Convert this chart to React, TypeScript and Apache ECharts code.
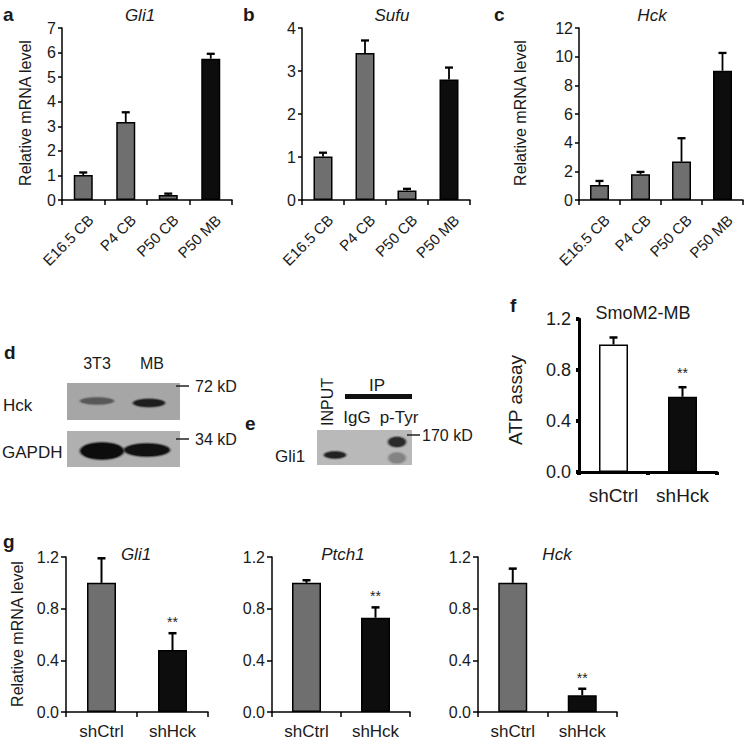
import React, { useEffect, useRef } from "react";
import * as echarts from "echarts";

const devCategories = ["E16.5 CB", "P4 CB", "P50 CB", "P50 MB"];
const gli1DevMean = [1.02, 3.17, 0.2, 5.75];
const gli1DevErr = [0.1, 0.4, 0.06, 0.2];
const sufuDevMean = [1.01, 3.42, 0.22, 2.8];
const sufuDevErr = [0.09, 0.29, 0.04, 0.28];
const hckDevMean = [1.05, 1.8, 2.68, 9.02];
const hckDevErr = [0.28, 0.16, 1.63, 1.24];

const shCategories = ["shCtrl", "shHck"];
const shSignificant = [false, true];
const atpMean = [1.0, 0.59];
const atpErr = [0.055, 0.075];
const gli1ShMean = [1.0, 0.48];
const gli1ShErr = [0.19, 0.13];
const ptch1ShMean = [1.0, 0.73];
const ptch1ShErr = [0.02, 0.08];
const hckShMean = [1.0, 0.13];
const hckShErr = [0.11, 0.05];

const FONT = '"Liberation Sans", Arial, Helvetica, sans-serif';
const GRAY = "#6f6f6f";
const BLACK = "#0d0d0d";
const TXT = "#1a1a1a";

function txt(text: string, x: number, y: number, size: number, opts: any = {}) {
  return {
    type: "text",
    x,
    y,
    rotation: opts.rotation || 0,
    z: 10,
    style: {
      text,
      x: 0,
      y: 0,
      fill: opts.fill || TXT,
      font: `${opts.style || "normal"} ${opts.weight || "normal"} ${size}px ${FONT}`,
      align: opts.align || "center",
      verticalAlign: opts.valign || "middle",
      textAlign: opts.align || "center",
      textVerticalAlign: opts.valign || "middle",
    },
  };
}

// a soft band: several concentric ellipses with falling opacity
function band(cx: number, cy: number, rx: number, ry: number, color: string, strength: number) {
  const layers: any[] = [];
  const steps = [
    [3, 0.12],
    [2, 0.25],
    [1, 0.5],
    [0, 1.0],
  ];
  for (const [d, o] of steps) {
    layers.push({
      type: "ellipse",
      shape: { cx, cy, rx: rx + d, ry: ry + d * 0.7 },
      style: { fill: color, opacity: o * strength },
    });
  }
  return layers;
}

function errRender(capHalf: number, lw: number, starOffset: number) {
  return (params: any, api: any) => {
    const i = api.value(0);
    const v = api.value(1);
    const e = api.value(2);
    const s = api.value(3);
    const p0 = api.coord([i, v]);
    const p1 = api.coord([i, v + e]);
    const children: any[] = [
      { type: "line", shape: { x1: p0[0], y1: p0[1], x2: p1[0], y2: p1[1] }, style: { stroke: "#000", lineWidth: lw } },
      { type: "line", shape: { x1: p1[0] - capHalf, y1: p1[1], x2: p1[0] + capHalf, y2: p1[1] }, style: { stroke: "#000", lineWidth: lw + 0.5 } },
    ];
    if (s) {
      children.push({
        type: "text",
        style: {
          text: "**",
          x: p1[0],
          y: p1[1] - starOffset,
          fill: "#222",
          font: `normal normal 14px ${FONT}`,
          align: "center",
          verticalAlign: "middle",
          textAlign: "center",
          textVerticalAlign: "middle",
        },
      });
    }
    return { type: "group", children };
  };
}

export default function App() {
  const ref = useRef<HTMLDivElement>(null);
  useEffect(() => {
    if (!ref.current) return;
    const chart = echarts.init(ref.current, undefined, { renderer: "svg" });

    const grids = [
      { left: 62, top: 28, width: 170, height: 172 },
      { left: 302, top: 28, width: 168, height: 172 },
      { left: 579, top: 28, width: 164, height: 172 },
      { left: 579, top: 319, width: 138, height: 153 },
      { left: 66, top: 557, width: 142, height: 155 },
      { left: 272, top: 557, width: 138, height: 155 },
      { left: 478, top: 557, width: 139, height: 155 },
    ];

    const xAxes: any[] = [];
    const yAxes: any[] = [];
    const series: any[] = [];

    const addDev = (gi: number, mean: number[], err: number[], max: number, interval: number) => {
      xAxes.push({
        type: "category",
        gridIndex: gi,
        data: devCategories,
        axisLine: { lineStyle: { color: "#000", width: 1.5 } },
        axisTick: { show: true, length: 5, lineStyle: { color: "#000", width: 1.5 } },
        axisLabel: {
          rotate: 45,
          fontSize: 15,
          fontFamily: FONT,
          color: TXT,
          margin: 10,
          verticalAlign: "top",
          padding: [3, 0, 0, 0],
        },
      });
      yAxes.push({
        type: "value",
        gridIndex: gi,
        min: 0,
        max,
        interval,
        splitLine: { show: false },
        axisLine: { show: true, lineStyle: { color: "#000", width: 1.5 } },
        axisTick: { show: true, length: 4, lineStyle: { color: "#000", width: 1.5 } },
        axisLabel: { fontSize: 16, fontFamily: FONT, color: TXT, margin: 6 },
      });
      series.push({
        type: "bar",
        xAxisIndex: gi,
        yAxisIndex: gi,
        barWidth: 19,
        data: mean.map((v, i) => ({ value: v, itemStyle: { color: i === 3 ? BLACK : GRAY } })),
        itemStyle: { borderColor: "#000", borderWidth: 1.5 },
        z: 3,
      });
      series.push({
        type: "custom",
        xAxisIndex: gi,
        yAxisIndex: gi,
        renderItem: errRender(4, 1.8, 10),
        data: mean.map((v, i) => [i, v, err[i], 0]),
        z: 2,
      });
    };

    const addSh = (gi: number, mean: number[], err: number[], colors: string[], opts: any) => {
      xAxes.push({
        type: "category",
        gridIndex: gi,
        data: shCategories,
        axisLine: { lineStyle: { color: "#000", width: opts.lw } },
        axisTick: { show: true, length: opts.tickLen, lineStyle: { color: "#000", width: opts.tickW } },
        axisLabel: { fontSize: opts.catFont, fontFamily: FONT, color: TXT, margin: opts.catMargin },
      });
      yAxes.push({
        type: "value",
        gridIndex: gi,
        min: 0,
        max: 1.2,
        interval: 0.4,
        splitLine: { show: false },
        axisLine: { show: true, lineStyle: { color: "#000", width: opts.lw } },
        axisTick: { show: true, length: opts.tickLen, lineStyle: { color: "#000", width: opts.tickW } },
        axisLabel: {
          fontSize: opts.tickFont,
          fontFamily: FONT,
          color: TXT,
          margin: opts.tickMargin,
          formatter: (v: number) => v.toFixed(1),
        },
      });
      series.push({
        type: "bar",
        xAxisIndex: gi,
        yAxisIndex: gi,
        barWidth: 29,
        data: mean.map((v, i) => ({ value: v, itemStyle: { color: colors[i] } })),
        itemStyle: { borderColor: "#000", borderWidth: 1.5 },
        z: 3,
      });
      series.push({
        type: "custom",
        xAxisIndex: gi,
        yAxisIndex: gi,
        renderItem: errRender(4, 2, opts.starOffset),
        data: mean.map((v, i) => [i, v, err[i], shSignificant[i] ? 1 : 0]),
        z: 2,
      });
    };

    addDev(0, gli1DevMean, gli1DevErr, 7, 1);
    addDev(1, sufuDevMean, sufuDevErr, 4, 1);
    addDev(2, hckDevMean, hckDevErr, 12, 2);
    addSh(3, atpMean, atpErr, ["#ffffff", BLACK], {
      lw: 3, tickLen: 3, tickW: 4, catFont: 19, catMargin: 14, tickFont: 18, tickMargin: 8, starOffset: 14,
    });
    addSh(4, gli1ShMean, gli1ShErr, [GRAY, BLACK], {
      lw: 1.5, tickLen: 5, tickW: 1.5, catFont: 17, catMargin: 11, tickFont: 16, tickMargin: 7, starOffset: 11,
    });
    addSh(5, ptch1ShMean, ptch1ShErr, [GRAY, BLACK], {
      lw: 1.5, tickLen: 5, tickW: 1.5, catFont: 17, catMargin: 11, tickFont: 16, tickMargin: 7, starOffset: 11,
    });
    addSh(6, hckShMean, hckShErr, [GRAY, BLACK], {
      lw: 1.5, tickLen: 5, tickW: 1.5, catFont: 17, catMargin: 11, tickFont: 16, tickMargin: 7, starOffset: 11,
    });

    const graphic: any[] = [
      // panel letters
      txt("a", 3, 14, 19, { weight: "bold", align: "left" }),
      txt("b", 243, 14, 19, { weight: "bold", align: "left" }),
      txt("c", 494, 14, 19, { weight: "bold", align: "left" }),
      txt("d", 4, 352, 19, { weight: "bold", align: "left" }),
      txt("e", 245, 423, 19, { weight: "bold", align: "left" }),
      txt("f", 510, 305, 19, { weight: "bold", align: "left" }),
      txt("g", 3, 541, 19, { weight: "bold", align: "left" }),
      // titles
      txt("Gli1", 140, 15, 17, { style: "italic" }),
      txt("Sufu", 392, 15, 17, { style: "italic" }),
      txt("Hck", 652, 15, 17, { style: "italic" }),
      txt("SmoM2-MB", 643, 313, 18),
      txt("Gli1", 136, 554, 17, { style: "italic" }),
      txt("Ptch1", 343, 554, 17, { style: "italic" }),
      txt("Hck", 557, 554, 17, { style: "italic" }),
      // y labels
      txt("Relative mRNA level", 25, 113, 16, { rotation: Math.PI / 2 }),
      txt("Relative mRNA level", 520, 113, 16, { rotation: Math.PI / 2 }),
      txt("ATP assay", 515, 400, 19, { rotation: Math.PI / 2 }),
      txt("Relative mRNA level", 17, 634, 16, { rotation: Math.PI / 2 }),
      // panel d blot
      txt("3T3", 97, 363, 16),
      txt("MB", 152, 363, 16),
      { type: "rect", shape: { x: 67, y: 383, width: 113, height: 37 }, style: { fill: "#a6a6a6" } },
      { type: "rect", shape: { x: 67, y: 431, width: 113, height: 36 }, style: { fill: "#b0b0b0" } },
      ...band(97, 401, 16, 3, "#555555", 0.9),
      ...band(149, 403, 15, 3.5, "#1e1e1e", 1),
      ...band(102, 451, 21, 8, "#0c0c0c", 1),
      ...band(147, 450, 22, 6, "#111111", 1),
      { type: "line", shape: { x1: 176, y1: 386, x2: 189, y2: 386 }, style: { stroke: "#222", lineWidth: 1.5 } },
      txt("72 kD", 195, 386, 16, { align: "left" }),
      { type: "line", shape: { x1: 176, y1: 439, x2: 189, y2: 439 }, style: { stroke: "#222", lineWidth: 1.5 } },
      txt("34 kD", 195, 439, 16, { align: "left" }),
      txt("Hck", 3, 405, 17, { align: "left" }),
      txt("GAPDH", 2, 452, 17, { align: "left" }),
      // panel e blot
      txt("INPUT", 327, 402, 16, { rotation: Math.PI / 2 }),
      txt("IP", 377, 385, 17),
      { type: "rect", shape: { x: 345, y: 394, width: 67, height: 5 }, style: { fill: "#111" } },
      txt("IgG", 357, 417, 17),
      txt("p-Tyr", 399, 417, 17),
      { type: "rect", shape: { x: 317, y: 430, width: 95, height: 35 }, style: { fill: "#b9b9b9" } },
      ...band(335, 455, 10, 3, "#222222", 1),
      ...band(397, 458, 8, 5, "#7a7a7a", 0.7),
      ...band(397, 442, 8, 4.5, "#2a2a2a", 1),
      { type: "line", shape: { x1: 407, y1: 435, x2: 420, y2: 435 }, style: { stroke: "#222", lineWidth: 1.5 } },
      txt("170 kD", 422, 435, 16, { align: "left" }),
      txt("Gli1", 275, 456, 17, { align: "left" }),
    ];

    chart.setOption({
      animation: false,
      backgroundColor: "#ffffff",
      grid: grids,
      xAxis: xAxes,
      yAxis: yAxes,
      series,
      graphic,
    });
    return () => chart.dispose();
  }, []);

  return (
    <div
      ref={ref}
      style={{ position: "absolute", left: 0, top: 0, width: 746, height: 743, background: "#fff" }}
    />
  );
}
